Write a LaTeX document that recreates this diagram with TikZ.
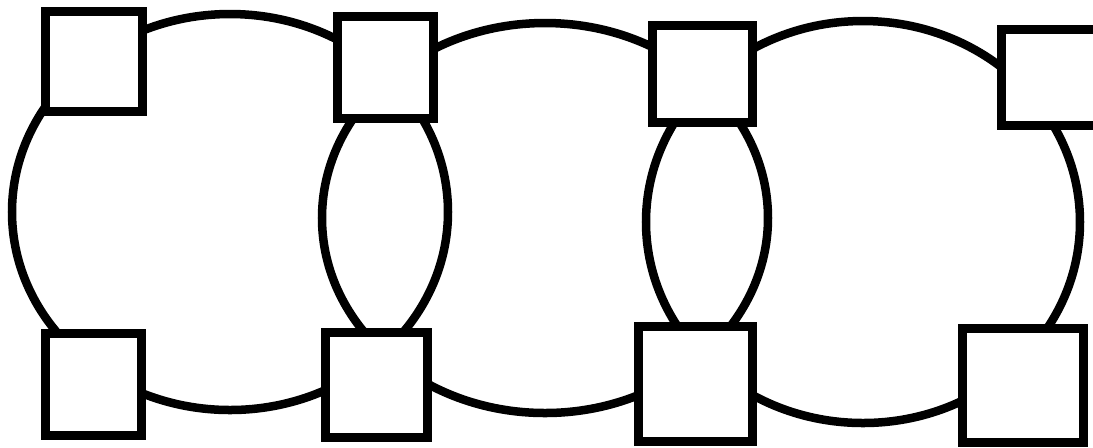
\documentclass[tikz,border=0pt]{standalone}
\begin{document}
\begin{tikzpicture}[x=0.01cm, y=-0.01cm,
  ring/.style={line width=0.085cm, black},
  sq/.style={draw=black, line width=0.09cm, fill=white, inner sep=0pt, rectangle}]
\useasboundingbox (0,0) rectangle (1093,447);
\clip (0,0) rectangle (1093,447);
\fill[white] (0,0) rectangle (1093,447);
% rings
\draw[ring] (230,212) ellipse [x radius=218, y radius=198];
\draw[ring] (545,218) ellipse [x radius=223, y radius=195];
\draw[ring] (863,222) ellipse [x radius=217, y radius=201];
% squares
\node[sq, minimum width=0.97cm, minimum height=1.00cm] (a1) at (94,61.5) {};
\node[sq, minimum width=0.96cm, minimum height=1.02cm] (b1) at (93.5,384.5) {};
\node[sq, minimum width=0.96cm, minimum height=1.02cm] (a2) at (385.5,67.5) {};
\node[sq, minimum width=1.02cm, minimum height=1.05cm] (b2) at (376.5,385) {};
\node[sq, minimum width=1.00cm, minimum height=0.97cm] (a3) at (702.5,74) {};
\node[sq, minimum width=1.14cm, minimum height=1.15cm] (b3) at (695.5,384) {};
\node[sq, minimum width=1.04cm, minimum height=0.96cm] (a4) at (1053.5,77.5) {};
\node[sq, minimum width=1.21cm, minimum height=1.14cm] (b4) at (1023,385.5) {};
\end{tikzpicture}
\end{document}
